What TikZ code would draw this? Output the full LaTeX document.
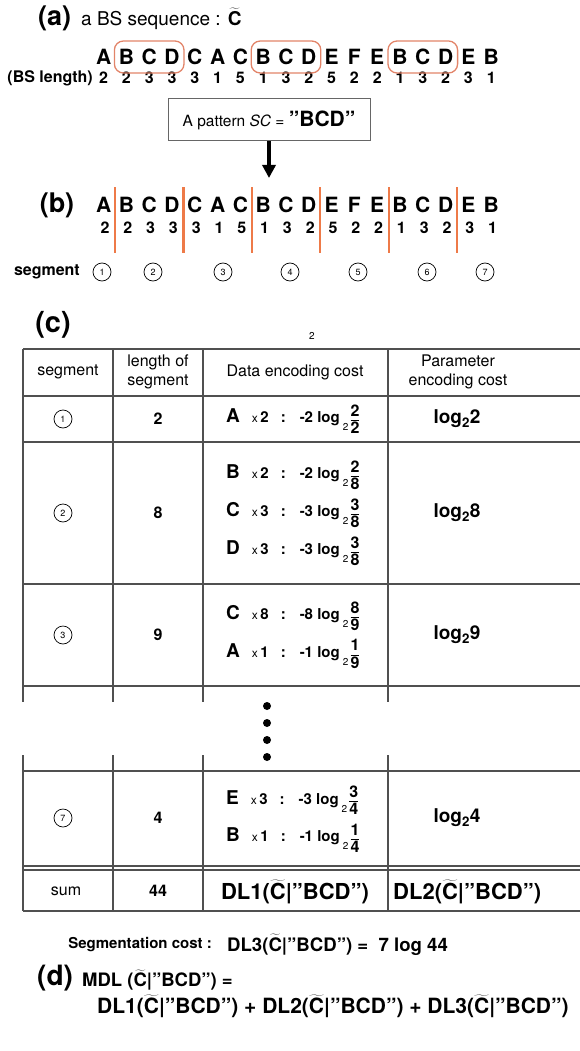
\documentclass[tikz,border=0pt]{standalone}
\usepackage{fontspec}
\setmainfont{TeX Gyre Heros}
\usetikzlibrary{calc,arrows.meta}
\definecolor{oboxc}{RGB}{226,132,105}
\definecolor{olinec}{RGB}{238,122,72}
\definecolor{tlinec}{RGB}{80,80,80}
\newcommand\Ct{\ensuremath{\widetilde{\mbox{C}}}}
\newcommand\fsz[1]{\fontsize{#1}{#1}\selectfont}
\newcommand\fr[2]{\ensuremath{\displaystyle\frac{\mbox{\bfseries\fsz{16}#1}}{\mbox{\bfseries\fsz{16}#2}}}}
\newcommand\enc[3]{{\fsz{19}\bfseries #1}\hspace{12pt}{\fsz{12}x}\hspace{2.5pt}{\fsz{15}\bfseries #2}\hspace{12pt}{\fsz{15}\bfseries :}\hspace{14pt}{\fsz{15}\bfseries -#2 log}\hspace{3pt}\raisebox{-8pt}{\fsz{10}2}\hspace{1pt}\fr{#2}{#3}}
\begin{document}
\begin{tikzpicture}[x=1pt,y=-1pt,
  every node/.style={inner sep=0pt},
  lab/.style={font=\fsz{27}\bfseries},
  let/.style={font=\fsz{21}\bfseries},
  num/.style={font=\fsz{16}\bfseries},
  obox/.style={draw=oboxc,line width=1.3pt,rounded corners=9pt},
  oline/.style={draw=olinec,line width=2.2pt},
  seg/.style={draw,circle,minimum size=18pt,line width=0.7pt,font=\fsz{9}},
  hd/.style={font=\fontsize{16}{19}\selectfont,align=center},
  cell/.style={font=\fsz{16}\bfseries},
  tl/.style={draw=tlinec,line width=1.1pt},
  big/.style={font=\fsz{22}\bfseries},
  mid/.style={font=\fsz{21}\bfseries},
  dot/.style={circle,fill=black,minimum size=8pt}]
\path[use as bounding box] (0,0) rectangle (580,1051);
% (a)
\node[lab,anchor=west] (la) at (38,18) {(a)};
\node[anchor=west,font=\fsz{19}] (ta) at (81,19) {a BS sequence : {\bfseries\Ct}};
\foreach \L [count=\i from 0] in {A,B,C,D,C,A,C,B,C,D,E,F,E,B,C,D,E,B}
  \node[let] (a\i) at ({103.6+22.8*\i},57) {\L};
\node[num,anchor=east] (bsl) at (93,78) {(BS length)};
\foreach \n [count=\i from 0] in {2,2,3,3,3,1,5,1,3,2,5,2,2,1,3,2,3,1}
  \node[num] (an\i) at ({103.6+22.8*\i},78) {\n};
\draw[obox] ($(a1.center)+(-12,-16)$) rectangle ($(a3.center)+(12,16)$);
\draw[obox] ($(a7.center)+(-12,-16)$) rectangle ($(a9.center)+(12,16)$);
\draw[obox] ($(a13.center)+(-12,-16)$) rectangle ($(a15.center)+(12,16)$);
\node[draw=gray!80!black,line width=1pt,minimum width=202pt,minimum height=42pt] (pat) at (269,120)
  {\fsz{15.5}A pattern \textit{SC} = {\fsz{21}\bfseries "BCD"}};
\coordinate (arrend) at (269,178);
\draw[line width=3.5pt,-{Triangle[width=13pt,length=13pt]}] (pat.south) -- (arrend);
% (b)
\node[lab] (lb) at (57,205) {(b)};
\foreach \L [count=\i from 0] in {A,B,C,D,C,A,C,B,C,D,E,F,E,B,C,D,E,B}
  \node[let] (b\i) at ({103.6+22.8*\i},205) {\L};
\foreach \n [count=\i from 0] in {2,2,3,3,3,1,5,1,3,2,5,2,2,1,3,2,3,1}
  \node[num] (bn\i) at ({105+22.8*\i},228) {\n};
\foreach \x in {115,183.4,251.8,320.2,388.6,457}
  \draw[oline] (\x,187) -- (\x,253);
\node[font=\fsz{16}\bfseries,anchor=east] (segl) at (80,272) {segment};
\foreach \x [count=\i] in {102,153,223,290,358,427,485}
  \node[seg] (s\i) at (\x,272) {\i};
% (c)
\node[font=\fsz{29}\bfseries] (lc) at (53,325) {(c)};
\node[font=\fsz{10}] (stray) at (312,336) {2};
% table lines
\foreach \y in {349,396,442,584,686,771,866,870,911}
  \draw[tl] (23,\y) -- (580,\y);
\foreach \x in {23,113,203,388}{
  \draw[tl] (\x,349) -- (\x,702);
  \draw[tl] (\x,755) -- (\x,911);}
% header
\node[hd] (h1) at (68,372) {segment};
\node[hd] (h2) at (158,372) {length of\\segment};
\node[hd] (h3) at (295,372) {Data encoding cost};
\node[hd] (h4) at (458,372) {Parameter\\encoding cost};
% row 1
\node[seg] (r1) at (63,419) {1};
\node[cell] (l1) at (158,419) {2};
\node[anchor=west] (e1) at (226,419) {\enc{A}{2}{2}};
\node[font=\fsz{19}\bfseries] (p1) at (457,419) {log\textsubscript{2}2};
% row 2
\node[seg] (r2) at (63,513) {2};
\node[cell] (l2) at (158,513) {8};
\node[anchor=west] (e2a) at (226,475) {\enc{B}{2}{8}};
\node[anchor=west] (e2b) at (226,513) {\enc{C}{3}{8}};
\node[anchor=west] (e2c) at (226,551) {\enc{D}{3}{8}};
\node[font=\fsz{19}\bfseries] (p2) at (457,513) {log\textsubscript{2}8};
% row 3
\node[seg] (r3) at (63,635) {3};
\node[cell] (l3) at (158,635) {9};
\node[anchor=west] (e3a) at (226,616) {\enc{C}{8}{9}};
\node[anchor=west] (e3b) at (226,654) {\enc{A}{1}{9}};
\node[font=\fsz{19}\bfseries] (p3) at (457,635) {log\textsubscript{2}9};
% dots
\foreach \y [count=\i] in {706,723,740,757}
  \node[dot] (d\i) at (267,\y) {};
% row 7
\node[seg] (r7) at (63,818) {7};
\node[cell] (l7) at (158,818) {4};
\node[anchor=west] (e7a) at (226,800) {\enc{E}{3}{4}};
\node[anchor=west] (e7b) at (226,838) {\enc{B}{1}{4}};
\node[font=\fsz{19}\bfseries] (p7) at (457,818) {log\textsubscript{2}4};
% sum
\node[font=\fsz{16}] (sm) at (66,891) {sum};
\node[cell] (s44) at (158,891) {44};
\node[big] (dl1) at (295,892) {DL1(\Ct|"BCD")};
\node[big,anchor=west] (dl2) at (393,892) {DL2(\Ct|"BCD")};
% segmentation cost
\node[font=\fsz{15}\bfseries,anchor=east] (sc) at (212,945) {Segmentation cost :};
\node[font=\fsz{18.6}\bfseries,anchor=west] (dl3) at (227,945) {DL3(\Ct|"BCD") = \ 7 log 44};
% (d)
\node[font=\fsz{28}\bfseries,anchor=west] (ld) at (37,978) {(d)};
\node[font=\fsz{18.5}\bfseries,anchor=west] (mdl) at (82,980) {MDL (\Ct|"BCD") =};
\node[mid,anchor=west] (sumall) at (97,1006) {DL1(\Ct|"BCD") + DL2(\Ct|"BCD") + DL3(\Ct|"BCD")};
\end{tikzpicture}
\end{document}
